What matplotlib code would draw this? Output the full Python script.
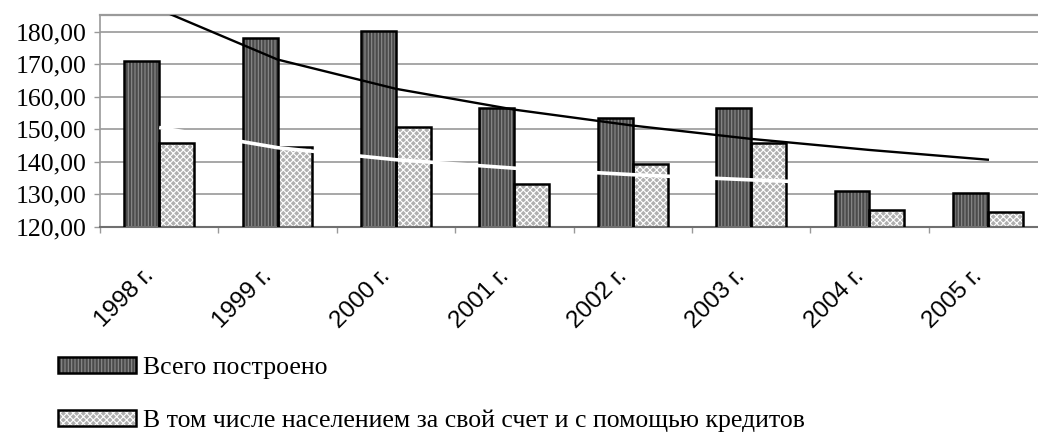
import matplotlib
matplotlib.use('Agg')
import matplotlib.pyplot as plt
import matplotlib.transforms as mtransforms
import numpy as np

# values
years = ['1998 г.', '1999 г.', '2000 г.', '2001 г.', '2002 г.', '2003 г.', '2004 г.', '2005 г.']
total_built = [171.1, 178.0, 180.3, 156.4, 153.4, 156.6, 131.0, 130.3]
by_population = [145.8, 144.6, 150.8, 133.0, 139.3, 145.8, 125.1, 124.4]
trend_total = [186.8, 171.4, 162.4, 156.0, 151.1, 147.0, 143.6, 140.6]
trend_population = [150.5, 144.3, 140.6, 138.0, 136.0, 134.4, 133.0, 131.8]
y_ticks = [120, 130, 140, 150, 160, 170, 180]
y_tick_labels = ['120,00', '130,00', '140,00', '150,00', '160,00', '170,00', '180,00']
legend_labels = ['Всего построено',
                 'В том числе населением за свой счет и с помощью кредитов']

plt.rcParams['hatch.linewidth'] = 0.8

fig = plt.figure(figsize=(10.38, 4.33), dpi=100)
ax = fig.add_axes([100 / 1038, 1 - 226.7 / 433, 947 / 1038, 211.7 / 433])

x = np.arange(len(years))
w = 0.295

# fill + hatch first, black outline on top (hatch colour follows edgecolor)
dark_fill = ax.bar(x - w / 2, total_built, w, color='#4b4b4b', hatch='|||||',
                   edgecolor='#8c8c8c', linewidth=0, zorder=2)
dark_edge = ax.bar(x - w / 2, total_built, w, fill=False, edgecolor='black',
                   linewidth=1.8, zorder=3)
light_fill = ax.bar(x + w / 2, by_population, w, color='#b0b0b0', hatch='xxxxx',
                    edgecolor='white', linewidth=0, zorder=2)
light_edge = ax.bar(x + w / 2, by_population, w, fill=False, edgecolor='black',
                    linewidth=1.8, zorder=3)

ax.plot(x, trend_population, color='white', lw=2.6, zorder=4, solid_capstyle='butt')
ax.plot(x, trend_total, color='black', lw=1.7, zorder=5)

ax.set_xlim(-0.5, 7.5)
ax.set_ylim(120, 185.1)
ax.set_yticks(y_ticks)
ax.set_yticklabels(y_tick_labels, fontfamily='Liberation Serif', fontsize=18.5)
ax.yaxis.grid(True, color='#8f8f8f', lw=1.1, zorder=0)
ax.set_axisbelow(True)

ax.set_xticks(x)
ax.set_xticklabels(years, fontfamily='Liberation Sans', fontsize=17.5,
                   rotation=45, ha='right', va='center', rotation_mode='anchor')
ax.set_xticks(np.arange(-0.5, 8, 1), minor=True)
ax.tick_params(axis='x', which='major', length=0, pad=33)
ax.tick_params(axis='x', which='minor', length=4, color='#999999', width=1)
ax.tick_params(axis='y', length=4, color='#999999', width=1, pad=6)

for s in ['left', 'top', 'right']:
    ax.spines[s].set_color('#9a9a9a')
    ax.spines[s].set_linewidth(1.2)
ax.spines['top'].set_linewidth(1.6)
ax.spines['bottom'].set_color('#707070')
ax.spines['bottom'].set_linewidth(1.5)

shift = mtransforms.ScaledTranslation(-0.09, 0, fig.dpi_scale_trans)
for lab in ax.get_xticklabels():
    lab.set_transform(lab.get_transform() + shift)

fig.legend([(dark_fill[0], dark_edge[0]), (light_fill[0], light_edge[0])], legend_labels,
           loc='upper left', bbox_to_anchor=(58 / 1038, 1 - 357 / 433),
           frameon=False, borderpad=0, borderaxespad=0,
           prop={'family': 'Liberation Serif', 'size': 18.5},
           handlelength=3.05, handleheight=0.58, handletextpad=0.25,
           labelspacing=1.17)

fig.savefig('out.png', dpi=100)
